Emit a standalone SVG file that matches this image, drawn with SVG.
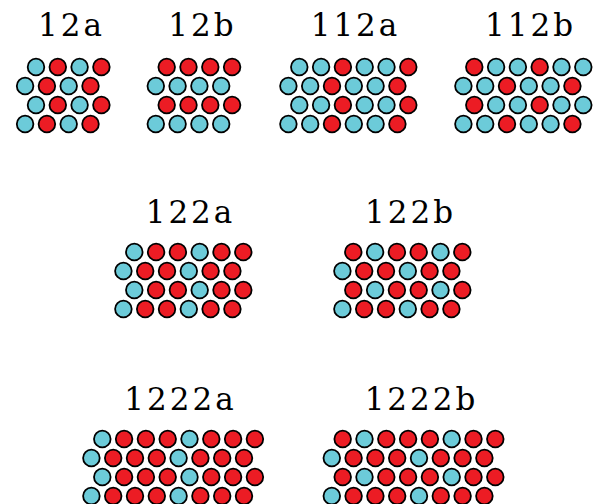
<svg xmlns="http://www.w3.org/2000/svg" width="595" height="504" viewBox="0 0 595 504">
<style>
.c{fill:#6ccbd9;stroke:#000;stroke-width:1.8}
.r{fill:#ec1c24;stroke:#000;stroke-width:1.8}
text{font-family:"DejaVu Serif","Liberation Serif",serif;font-size:31px;letter-spacing:3px;fill:#000;text-anchor:middle}
</style>
<rect width="595" height="504" fill="#fff"/>
<g id="n12a">
<text x="71.5" y="36">12a</text>
<g transform="translate(25.1,67)">
<circle class="c" cx="10.9" cy="0" r="8.3"/><circle class="r" cx="32.7" cy="0" r="8.3"/><circle class="c" cx="54.5" cy="0" r="8.3"/><circle class="r" cx="76.3" cy="0" r="8.3"/>
<circle class="c" cx="0" cy="19" r="8.3"/><circle class="r" cx="21.8" cy="19" r="8.3"/><circle class="c" cx="43.6" cy="19" r="8.3"/><circle class="r" cx="65.4" cy="19" r="8.3"/>
<circle class="c" cx="10.9" cy="38" r="8.3"/><circle class="r" cx="32.7" cy="38" r="8.3"/><circle class="c" cx="54.5" cy="38" r="8.3"/><circle class="r" cx="76.3" cy="38" r="8.3"/>
<circle class="c" cx="0" cy="57" r="8.3"/><circle class="r" cx="21.8" cy="57" r="8.3"/><circle class="c" cx="43.6" cy="57" r="8.3"/><circle class="r" cx="65.4" cy="57" r="8.3"/>
</g>
</g>
<g id="n12b">
<text x="202.5" y="36">12b</text>
<g transform="translate(155.8,67)">
<circle class="r" cx="10.9" cy="0" r="8.3"/><circle class="r" cx="32.7" cy="0" r="8.3"/><circle class="r" cx="54.5" cy="0" r="8.3"/><circle class="r" cx="76.3" cy="0" r="8.3"/>
<circle class="c" cx="0" cy="19" r="8.3"/><circle class="c" cx="21.8" cy="19" r="8.3"/><circle class="c" cx="43.6" cy="19" r="8.3"/><circle class="c" cx="65.4" cy="19" r="8.3"/>
<circle class="r" cx="10.9" cy="38" r="8.3"/><circle class="r" cx="32.7" cy="38" r="8.3"/><circle class="r" cx="54.5" cy="38" r="8.3"/><circle class="r" cx="76.3" cy="38" r="8.3"/>
<circle class="c" cx="0" cy="57" r="8.3"/><circle class="c" cx="21.8" cy="57" r="8.3"/><circle class="c" cx="43.6" cy="57" r="8.3"/><circle class="c" cx="65.4" cy="57" r="8.3"/>
</g>
</g>
<g id="n112a">
<text x="355.5" y="36">112a</text>
<g transform="translate(288.4,67)">
<circle class="c" cx="10.9" cy="0" r="8.3"/><circle class="c" cx="32.7" cy="0" r="8.3"/><circle class="r" cx="54.5" cy="0" r="8.3"/><circle class="c" cx="76.3" cy="0" r="8.3"/><circle class="c" cx="98.1" cy="0" r="8.3"/><circle class="r" cx="119.9" cy="0" r="8.3"/>
<circle class="c" cx="0" cy="19" r="8.3"/><circle class="c" cx="21.8" cy="19" r="8.3"/><circle class="r" cx="43.6" cy="19" r="8.3"/><circle class="c" cx="65.4" cy="19" r="8.3"/><circle class="c" cx="87.2" cy="19" r="8.3"/><circle class="r" cx="109" cy="19" r="8.3"/>
<circle class="c" cx="10.9" cy="38" r="8.3"/><circle class="c" cx="32.7" cy="38" r="8.3"/><circle class="r" cx="54.5" cy="38" r="8.3"/><circle class="c" cx="76.3" cy="38" r="8.3"/><circle class="c" cx="98.1" cy="38" r="8.3"/><circle class="r" cx="119.9" cy="38" r="8.3"/>
<circle class="c" cx="0" cy="57" r="8.3"/><circle class="c" cx="21.8" cy="57" r="8.3"/><circle class="r" cx="43.6" cy="57" r="8.3"/><circle class="c" cx="65.4" cy="57" r="8.3"/><circle class="c" cx="87.2" cy="57" r="8.3"/><circle class="r" cx="109" cy="57" r="8.3"/>
</g>
</g>
<g id="n112b">
<text x="530.5" y="36">112b</text>
<g transform="translate(463.4,67)">
<circle class="r" cx="10.9" cy="0" r="8.3"/><circle class="c" cx="32.7" cy="0" r="8.3"/><circle class="c" cx="54.5" cy="0" r="8.3"/><circle class="r" cx="76.3" cy="0" r="8.3"/><circle class="c" cx="98.1" cy="0" r="8.3"/><circle class="c" cx="119.9" cy="0" r="8.3"/>
<circle class="c" cx="0" cy="19" r="8.3"/><circle class="c" cx="21.8" cy="19" r="8.3"/><circle class="r" cx="43.6" cy="19" r="8.3"/><circle class="c" cx="65.4" cy="19" r="8.3"/><circle class="c" cx="87.2" cy="19" r="8.3"/><circle class="r" cx="109" cy="19" r="8.3"/>
<circle class="r" cx="10.9" cy="38" r="8.3"/><circle class="c" cx="32.7" cy="38" r="8.3"/><circle class="c" cx="54.5" cy="38" r="8.3"/><circle class="r" cx="76.3" cy="38" r="8.3"/><circle class="c" cx="98.1" cy="38" r="8.3"/><circle class="c" cx="119.9" cy="38" r="8.3"/>
<circle class="c" cx="0" cy="57" r="8.3"/><circle class="c" cx="21.8" cy="57" r="8.3"/><circle class="r" cx="43.6" cy="57" r="8.3"/><circle class="c" cx="65.4" cy="57" r="8.3"/><circle class="c" cx="87.2" cy="57" r="8.3"/><circle class="r" cx="109" cy="57" r="8.3"/>
</g>
</g>
<g id="n122a">
<text x="190.5" y="223">122a</text>
<g transform="translate(123.4,252)">
<circle class="c" cx="10.9" cy="0" r="8.3"/><circle class="r" cx="32.7" cy="0" r="8.3"/><circle class="r" cx="54.5" cy="0" r="8.3"/><circle class="c" cx="76.3" cy="0" r="8.3"/><circle class="r" cx="98.1" cy="0" r="8.3"/><circle class="r" cx="119.9" cy="0" r="8.3"/>
<circle class="c" cx="0" cy="19" r="8.3"/><circle class="r" cx="21.8" cy="19" r="8.3"/><circle class="r" cx="43.6" cy="19" r="8.3"/><circle class="c" cx="65.4" cy="19" r="8.3"/><circle class="r" cx="87.2" cy="19" r="8.3"/><circle class="r" cx="109" cy="19" r="8.3"/>
<circle class="c" cx="10.9" cy="38" r="8.3"/><circle class="r" cx="32.7" cy="38" r="8.3"/><circle class="r" cx="54.5" cy="38" r="8.3"/><circle class="c" cx="76.3" cy="38" r="8.3"/><circle class="r" cx="98.1" cy="38" r="8.3"/><circle class="r" cx="119.9" cy="38" r="8.3"/>
<circle class="c" cx="0" cy="57" r="8.3"/><circle class="r" cx="21.8" cy="57" r="8.3"/><circle class="r" cx="43.6" cy="57" r="8.3"/><circle class="c" cx="65.4" cy="57" r="8.3"/><circle class="r" cx="87.2" cy="57" r="8.3"/><circle class="r" cx="109" cy="57" r="8.3"/>
</g>
</g>
<g id="n122b">
<text x="410.5" y="223">122b</text>
<g transform="translate(342.4,252)">
<circle class="r" cx="10.9" cy="0" r="8.3"/><circle class="c" cx="32.7" cy="0" r="8.3"/><circle class="r" cx="54.5" cy="0" r="8.3"/><circle class="r" cx="76.3" cy="0" r="8.3"/><circle class="c" cx="98.1" cy="0" r="8.3"/><circle class="r" cx="119.9" cy="0" r="8.3"/>
<circle class="c" cx="0" cy="19" r="8.3"/><circle class="r" cx="21.8" cy="19" r="8.3"/><circle class="r" cx="43.6" cy="19" r="8.3"/><circle class="c" cx="65.4" cy="19" r="8.3"/><circle class="r" cx="87.2" cy="19" r="8.3"/><circle class="r" cx="109" cy="19" r="8.3"/>
<circle class="r" cx="10.9" cy="38" r="8.3"/><circle class="c" cx="32.7" cy="38" r="8.3"/><circle class="r" cx="54.5" cy="38" r="8.3"/><circle class="r" cx="76.3" cy="38" r="8.3"/><circle class="c" cx="98.1" cy="38" r="8.3"/><circle class="r" cx="119.9" cy="38" r="8.3"/>
<circle class="c" cx="0" cy="57" r="8.3"/><circle class="r" cx="21.8" cy="57" r="8.3"/><circle class="r" cx="43.6" cy="57" r="8.3"/><circle class="c" cx="65.4" cy="57" r="8.3"/><circle class="r" cx="87.2" cy="57" r="8.3"/><circle class="r" cx="109" cy="57" r="8.3"/>
</g>
</g>
<g id="n1222a">
<text x="180.5" y="410">1222a</text>
<g transform="translate(91.4,439)">
<circle class="c" cx="10.9" cy="0" r="8.3"/><circle class="r" cx="32.7" cy="0" r="8.3"/><circle class="r" cx="54.5" cy="0" r="8.3"/><circle class="r" cx="76.3" cy="0" r="8.3"/><circle class="c" cx="98.1" cy="0" r="8.3"/><circle class="r" cx="119.9" cy="0" r="8.3"/><circle class="r" cx="141.7" cy="0" r="8.3"/><circle class="r" cx="163.5" cy="0" r="8.3"/>
<circle class="c" cx="0" cy="19" r="8.3"/><circle class="r" cx="21.8" cy="19" r="8.3"/><circle class="r" cx="43.6" cy="19" r="8.3"/><circle class="r" cx="65.4" cy="19" r="8.3"/><circle class="c" cx="87.2" cy="19" r="8.3"/><circle class="r" cx="109" cy="19" r="8.3"/><circle class="r" cx="130.8" cy="19" r="8.3"/><circle class="r" cx="152.6" cy="19" r="8.3"/>
<circle class="c" cx="10.9" cy="38" r="8.3"/><circle class="r" cx="32.7" cy="38" r="8.3"/><circle class="r" cx="54.5" cy="38" r="8.3"/><circle class="r" cx="76.3" cy="38" r="8.3"/><circle class="c" cx="98.1" cy="38" r="8.3"/><circle class="r" cx="119.9" cy="38" r="8.3"/><circle class="r" cx="141.7" cy="38" r="8.3"/><circle class="r" cx="163.5" cy="38" r="8.3"/>
<circle class="c" cx="0" cy="57" r="8.3"/><circle class="r" cx="21.8" cy="57" r="8.3"/><circle class="r" cx="43.6" cy="57" r="8.3"/><circle class="r" cx="65.4" cy="57" r="8.3"/><circle class="c" cx="87.2" cy="57" r="8.3"/><circle class="r" cx="109" cy="57" r="8.3"/><circle class="r" cx="130.8" cy="57" r="8.3"/><circle class="r" cx="152.6" cy="57" r="8.3"/>
</g>
</g>
<g id="n1222b">
<text x="421.5" y="410">1222b</text>
<g transform="translate(331.8,439)">
<circle class="r" cx="10.9" cy="0" r="8.3"/><circle class="c" cx="32.7" cy="0" r="8.3"/><circle class="r" cx="54.5" cy="0" r="8.3"/><circle class="r" cx="76.3" cy="0" r="8.3"/><circle class="r" cx="98.1" cy="0" r="8.3"/><circle class="c" cx="119.9" cy="0" r="8.3"/><circle class="r" cx="141.7" cy="0" r="8.3"/><circle class="r" cx="163.5" cy="0" r="8.3"/>
<circle class="c" cx="0" cy="19" r="8.3"/><circle class="r" cx="21.8" cy="19" r="8.3"/><circle class="r" cx="43.6" cy="19" r="8.3"/><circle class="r" cx="65.4" cy="19" r="8.3"/><circle class="c" cx="87.2" cy="19" r="8.3"/><circle class="r" cx="109" cy="19" r="8.3"/><circle class="r" cx="130.8" cy="19" r="8.3"/><circle class="r" cx="152.6" cy="19" r="8.3"/>
<circle class="r" cx="10.9" cy="38" r="8.3"/><circle class="c" cx="32.7" cy="38" r="8.3"/><circle class="r" cx="54.5" cy="38" r="8.3"/><circle class="r" cx="76.3" cy="38" r="8.3"/><circle class="r" cx="98.1" cy="38" r="8.3"/><circle class="c" cx="119.9" cy="38" r="8.3"/><circle class="r" cx="141.7" cy="38" r="8.3"/><circle class="r" cx="163.5" cy="38" r="8.3"/>
<circle class="c" cx="0" cy="57" r="8.3"/><circle class="r" cx="21.8" cy="57" r="8.3"/><circle class="r" cx="43.6" cy="57" r="8.3"/><circle class="r" cx="65.4" cy="57" r="8.3"/><circle class="c" cx="87.2" cy="57" r="8.3"/><circle class="r" cx="109" cy="57" r="8.3"/><circle class="r" cx="130.8" cy="57" r="8.3"/><circle class="r" cx="152.6" cy="57" r="8.3"/>
</g>
</g>
<g id="connectors"/>
</svg>
